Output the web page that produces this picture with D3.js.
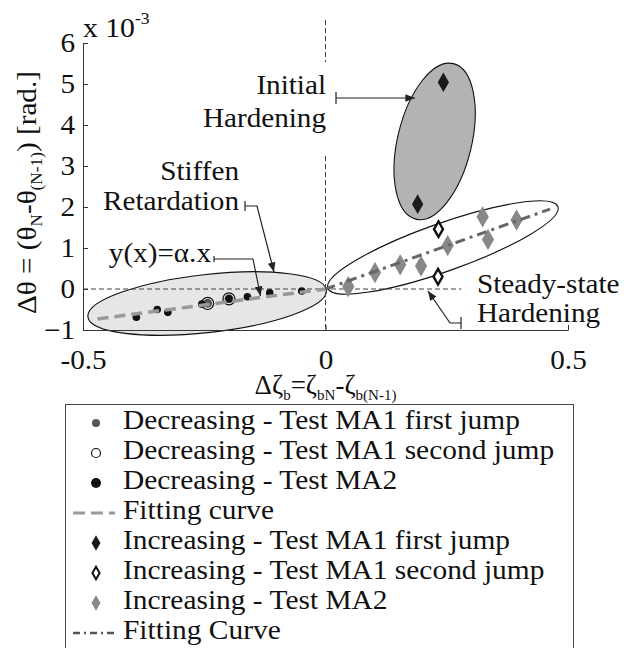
<!DOCTYPE html>
<html><head><meta charset="utf-8">
<script src="https://cdn.jsdelivr.net/npm/d3@7/dist/d3.min.js"></script>
<style>
body{margin:0;background:#fff;}
text{font-family:"Liberation Serif","Times New Roman",serif;fill:#111;}
</style></head>
<body><svg id="chart" width="638" height="648"></svg>
<script>
// ---- data (x = Δζb, y = Δθ in units of 1e-3 rad) ----
const decMA1First = [[-0.243,-0.35],[-0.199,-0.24]];
const decMA1Second = [[-0.243,-0.35],[-0.199,-0.24]];
const decMA2 = [[-0.390,-0.69],[-0.347,-0.50],[-0.325,-0.57],[-0.255,-0.37],[-0.199,-0.24],[-0.161,-0.19],[-0.115,-0.09],[-0.049,-0.05]];
const fitDec = [[-0.47,-0.73],[0,0]];
const incMA1First = [[0.243,5.04],[0.190,2.07]];
const incMA1Second = [[0.233,1.46],[0.232,0.30]];
const incMA2 = [[0.047,0.06],[0.102,0.40],[0.154,0.59],[0.197,0.56],[0.252,1.06],[0.324,1.76],[0.335,1.21],[0.394,1.68]];
const fitInc = [[0,0],[0.463,1.95]];
const xTicks = [-0.5,0,0.5];
const xTickLabels = ["-0.5","0","0.5"];
const yTicks = [-1,0,1,2,3,4,5,6];
const legendLabels = ["Decreasing - Test MA1 first jump","Decreasing - Test MA1 second jump","Decreasing - Test MA2","Fitting curve","Increasing - Test MA1 first jump","Increasing - Test MA1 second jump","Increasing - Test MA2","Fitting Curve"];

const svg = d3.select("#chart");
const FS = 27, SX = 1.08;
const x = d3.scaleLinear().domain([-0.5,0.5]).range([83,568]);
const y = d3.scaleLinear().domain([-1,6]).range([330,43]);

// horizontally widen a text element around its anchor point
function stretch(sel, sx){
  sel.each(function(){
    const t = d3.select(this);
    const tx = +t.attr("x")||0, ty = +t.attr("y")||0;
    t.attr("x",0).attr("y",0).attr("transform",`translate(${tx},${ty}) scale(${sx},1)`);
  });
}

// ellipses (annotation regions, centres in data units)
const ell = [
  {c:[0.225,3.6], rx:37, ry:80, rot:13.6, fill:"#b3b3b3"},
  {c:[-0.244,-0.354], rx:120, ry:29, rot:-6.4, fill:"#e6e6e6"},
  {c:[0.242,1.012], rx:122, ry:24, rot:-19.5, fill:"none"}
];
svg.selectAll("ellipse.reg").data(ell).join("ellipse")
  .attr("class","reg")
  .attr("transform",d=>`translate(${x(d.c[0])},${y(d.c[1])}) rotate(${d.rot})`)
  .attr("rx",d=>d.rx).attr("ry",d=>d.ry)
  .attr("fill",d=>d.fill).attr("stroke","#111").attr("stroke-width",1.1);

// reference dashed lines
svg.append("line").attr("x1",x(0)).attr("x2",x(0)).attr("y1",20).attr("y2",y(-1))
  .attr("stroke","#444").attr("stroke-width",1).attr("stroke-dasharray","5,3");
svg.append("line").attr("x1",x(-0.5)).attr("x2",x(0.28)).attr("y1",y(0)).attr("y2",y(0))
  .attr("stroke","#444").attr("stroke-width",1).attr("stroke-dasharray","5,3");

// axes
const yAxis = d3.axisLeft(y).tickValues(yTicks).tickSizeInner(-5).tickSizeOuter(0).tickPadding(8).tickFormat(d3.format("d"));
const gy = svg.append("g").attr("transform",`translate(${x(-0.5)},0)`).call(yAxis);
gy.selectAll("text").style("font-size",FS+"px").attr("fill","#111").attr("dy","0.33em");
gy.select(".domain").attr("stroke","#333");
gy.selectAll(".tick line").attr("stroke","#333");
stretch(gy.selectAll("text"), SX);
const xAxis = d3.axisBottom(x).tickValues(xTicks).tickSizeInner(-5).tickSizeOuter(0).tickPadding(20).tickFormat((d,i)=>xTickLabels[i]);
const gx = svg.append("g").attr("transform",`translate(0,${y(-1)})`).call(xAxis);
gx.selectAll("text").style("font-size",FS+"px").attr("fill","#111");
gx.select(".domain").attr("stroke","#333");
gx.selectAll(".tick line").attr("stroke","#333");
stretch(gx.selectAll("text"), SX);

// exponent
const ex = svg.append("text").attr("x",83).attr("y",37).style("font-size",FS+"px");
ex.append("tspan").text("x 10");
ex.append("tspan").attr("dy",-13).style("font-size","16px").text("-3");
stretch(ex, 1.1);

// markers
const diamond = d3.symbol().type(d3.symbolDiamond);
function dots(data, r, fill, stroke, sw){
  svg.append("g").selectAll("circle").data(data).join("circle")
    .attr("cx",d=>x(d[0])).attr("cy",d=>y(d[1])).attr("r",r)
    .attr("fill",fill).attr("stroke",stroke).attr("stroke-width",sw);
}
function diamonds(data, size, fill, stroke, sw){
  svg.append("g").selectAll("path").data(data).join("path")
    .attr("transform",d=>`translate(${x(d[0])},${y(d[1])})`)
    .attr("d",diamond.size(size)())
    .attr("fill",fill).attr("stroke",stroke).attr("stroke-width",sw);
}
dots(decMA1Second, 6, "#fff", "#111", 1.3);
dots(decMA1First, 4.5, "#555", "none", 0);
dots(decMA2, 3.8, "#111", "none", 0);
diamonds(incMA2, 130, "#888", "none", 0);
diamonds(incMA1First, 110, "#1a1a1a", "none", 0);
diamonds(incMA1Second, 70, "#fff", "#111", 2.4);

// fitting lines
const line = d3.line().x(d=>x(d[0])).y(d=>y(d[1]));
svg.append("path").attr("d",line(fitDec)).attr("fill","none")
  .attr("stroke","#999").attr("stroke-width",3.5).attr("stroke-dasharray","11,6");
svg.append("path").attr("d",line(fitInc)).attr("fill","none")
  .attr("stroke","#666").attr("stroke-width",3).attr("stroke-dasharray","10,5,3,5");

// annotations
function label(txt,xx,yy,anchor){
  const t = svg.append("text").attr("x",xx).attr("y",yy).attr("text-anchor",anchor)
    .attr("dominant-baseline","middle").style("font-size",FS+"px").text(txt);
  stretch(t, SX);
}
svg.append("rect").attr("x",195).attr("y",62).attr("width",135).attr("height",91).attr("fill","#fff");
label("Initial",326,88,"end");
label("Hardening",326,121,"end");
svg.append("defs").append("marker").attr("id","ah").attr("viewBox","0 0 10 10")
  .attr("refX",10).attr("refY",5).attr("markerWidth",8).attr("markerHeight",8).attr("orient","auto")
  .append("path").attr("d","M0,1 L10,5 L0,9 Z").attr("fill","#222");
const arrows = [
  [[336,98],[415,98]],
  [[245,206],[257,206],[274,272]],
  [[214,259],[253,259],[260.5,296]],
  [[461,323],[450,323],[428,291]]
];
const bars = [[336,92,336,104],[245,201,245,211],[214,256,214,262],[461,317,461,329]];
arrows.forEach(a=>{
  svg.append("path").attr("d",d3.line()(a)).attr("fill","none").attr("stroke","#222")
    .attr("stroke-width",1.2).attr("marker-end","url(#ah)");
});
bars.forEach(b=>svg.append("line").attr("x1",b[0]).attr("y1",b[1]).attr("x2",b[2]).attr("y2",b[3]).attr("stroke","#222").attr("stroke-width",1.2));
label("Stiffen",239,174,"end");
label("Retardation",239,204,"end");
label("y(x)=α.x",211,256,"end");
label("Steady-state",477,287,"start");
label("Hardening",477,316,"start");

// axis titles
const xt = svg.append("text").attr("x",x(0)).attr("y",394).attr("text-anchor","middle").style("font-size",FS+"px");
xt.append("tspan").text("Δζ");
xt.append("tspan").attr("dy",6).style("font-size","15px").text("b");
xt.append("tspan").attr("dy",-6).text("=ζ");
xt.append("tspan").attr("dy",6).style("font-size","15px").text("bN");
xt.append("tspan").attr("dy",-6).text("-ζ");
xt.append("tspan").attr("dy",6).style("font-size","15px").text("b(N-1)");

const yt = svg.append("text").attr("transform",`translate(36,${(y(-1)+y(6))/2+6}) rotate(-90) scale(${SX},1)`)
  .attr("text-anchor","middle").style("font-size",FS+"px");
yt.append("tspan").text("Δθ = (θ");
yt.append("tspan").attr("dy",6).style("font-size","16px").text("N");
yt.append("tspan").attr("dy",-6).text("-θ");
yt.append("tspan").attr("dy",6).style("font-size","16px").text("(N-1)");
yt.append("tspan").attr("dy",-6).text(") [rad.]");

// legend
const L = svg.append("g");
L.append("rect").attr("x",65.5).attr("y",404.5).attr("width",508).attr("height",260)
  .attr("fill","#fff").attr("stroke","#444").attr("stroke-width",1);
const rowY = i => 423 + i*30;
legendLabels.forEach((t,i)=>{
  const tt = L.append("text").attr("x",123).attr("y",rowY(i)).attr("dominant-baseline","middle")
    .style("font-size","27.5px").text(t);
  stretch(tt, 1.07);
});
const lx = 96;
L.append("circle").attr("cx",lx).attr("cy",rowY(0)).attr("r",4).attr("fill","#555");
L.append("circle").attr("cx",lx).attr("cy",rowY(1)).attr("r",4.5).attr("fill","#fff").attr("stroke","#111").attr("stroke-width",1.2);
L.append("circle").attr("cx",lx).attr("cy",rowY(2)).attr("r",5).attr("fill","#111");
L.append("line").attr("x1",73).attr("x2",115).attr("y1",rowY(3)).attr("y2",rowY(3)).attr("stroke","#999").attr("stroke-width",3).attr("stroke-dasharray","12,6");
L.append("path").attr("transform",`translate(${lx},${rowY(4)})`).attr("d",diamond.size(70)()).attr("fill","#1a1a1a");
L.append("path").attr("transform",`translate(${lx},${rowY(5)})`).attr("d",diamond.size(45)()).attr("fill","#fff").attr("stroke","#111").attr("stroke-width",2);
L.append("path").attr("transform",`translate(${lx},${rowY(6)})`).attr("d",diamond.size(70)()).attr("fill","#888");
L.append("line").attr("x1",73).attr("x2",115).attr("y1",rowY(7)).attr("y2",rowY(7)).attr("stroke","#555").attr("stroke-width",2.5).attr("stroke-dasharray","7,4,2,4");
</script></body></html>
